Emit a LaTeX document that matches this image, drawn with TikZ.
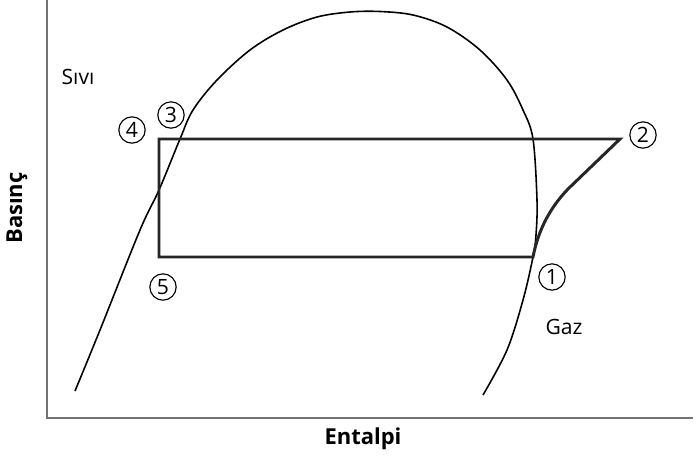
\documentclass[tikz,border=0pt]{standalone}
\usepackage{fontspec}
\setmainfont{Open Sans}
\begin{document}
\begin{tikzpicture}[x=0.02cm,y=-0.02cm,
  axis/.style={draw=black!55,line width=0.8pt},
  dome/.style={draw=black,line width=0.9pt},
  cycleline/.style={draw=black!85,line width=1.7pt,line join=miter},
  num/.style={draw=black,circle,line width=0.65pt,inner sep=0pt,minimum size=15pt,font=\fontsize{12}{12}\selectfont},
  lab/.style={font=\fontsize{12}{14}\selectfont},
  axlab/.style={font=\fontsize{12.5}{14}\selectfont\bfseries}]
\useasboundingbox (0,0) rectangle (700,457);
% axes
\coordinate (o) at (47,418);
\coordinate (ytop) at (47,0);
\coordinate (xend) at (693,418);
\draw[axis] (ytop) -- (o) -- (xend);
% saturation dome
\draw[dome] plot[smooth,tension=0.55] coordinates {(75,391) (100,330) (140,230) (159,190) (180,139) (193,110) (217,80) (250,50) (283,30) (317,17) (350,12) (380,11.5) (413,15) (447,27) (480,50) (507,80) (523,110) (533,139) (537,200) (536,235) (533,257) (523,300) (507,350) (483,395)};
% cycle
\coordinate (c4) at (159,139);
\coordinate (c2) at (620,139);
\coordinate (c1) at (533,257);
\coordinate (c5) at (159,257);
\coordinate (k) at (568,189);
\draw[cycleline] (c5) -- (c4) -- (c2) -- (k) .. controls (548,210) and (538,232) .. (c1) -- cycle;
% point labels
\node[num] (n1) at (552,277) {1};
\node[num] (n2) at (643,135) {2};
\node[num] (n3) at (171,115) {3};
\node[num] (n4) at (132,130) {4};
\node[num] (n5) at (163,287) {5};
% region labels
\node[lab] (sivi) at (78,77) {Sıvı};
\node[lab] (gaz) at (564,327) {Gaz};
% axis labels
\node[axlab] (xl) at (363,439) {Entalpi};
\node[axlab,rotate=90] (yl) at (17,208) {Basınç};
\end{tikzpicture}
\end{document}
